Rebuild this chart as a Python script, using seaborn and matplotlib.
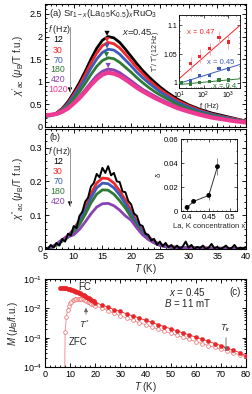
import numpy as np
import pandas as pd
import matplotlib
matplotlib.use("Agg")
import matplotlib.pyplot as plt
import seaborn as sns
from matplotlib.ticker import MultipleLocator, FuncFormatter, LogLocator, NullFormatter

sns.set_style("ticks")
plt.rcParams['font.family'] = ['Liberation Sans', 'DejaVu Sans']
plt.rcParams['mathtext.fontset'] = 'custom'
plt.rcParams['mathtext.rm'] = 'Liberation Sans'
plt.rcParams['mathtext.it'] = 'Liberation Sans:italic'
plt.rcParams['mathtext.bf'] = 'Liberation Sans:bold'
plt.rcParams['font.size'] = 6.5

# ---------------- data ----------------
freqs = ["12", "30", "70", "180", "420", "1020"]
colors = ["#000000", "#f2262b", "#3b5cb8", "#2f7a34", "#8a43b2", "#ee3a92"]

T_a = [5, 6, 7, 8, 9, 10, 11, 12, 13, 14, 15, 16, 17, 18, 19, 20, 21, 22, 23, 24, 25, 26,
       28, 30, 32, 34, 36, 38, 40]
chi1_12 = [0.24, 0.26, 0.31, 0.41, 0.56, 0.76, 0.98, 1.23, 1.50, 1.74, 1.92, 2.00, 1.97, 1.87, 1.72, 1.56,
           1.40, 1.25, 1.12, 1.00, 0.89, 0.79, 0.62, 0.49, 0.39, 0.31, 0.25, 0.19, 0.13]
chi1_30 = [0.24, 0.26, 0.30, 0.40, 0.53, 0.72, 0.92, 1.16, 1.41, 1.63, 1.80, 1.87, 1.84, 1.75, 1.61, 1.46,
           1.31, 1.18, 1.05, 0.94, 0.84, 0.75, 0.59, 0.47, 0.37, 0.29, 0.23, 0.18, 0.13]
chi1_70 = [0.24, 0.25, 0.30, 0.38, 0.51, 0.68, 0.86, 1.07, 1.30, 1.50, 1.65, 1.72, 1.70, 1.61, 1.48, 1.35,
           1.21, 1.09, 0.98, 0.88, 0.78, 0.70, 0.55, 0.44, 0.35, 0.28, 0.22, 0.17, 0.12]
chi1_180 = [0.24, 0.25, 0.29, 0.36, 0.47, 0.62, 0.78, 0.96, 1.16, 1.34, 1.47, 1.53, 1.51, 1.43, 1.32, 1.21,
            1.09, 0.98, 0.88, 0.79, 0.71, 0.64, 0.50, 0.40, 0.32, 0.26, 0.20, 0.16, 0.12]
chi1_420 = [0.25, 0.26, 0.28, 0.33, 0.42, 0.54, 0.67, 0.82, 0.98, 1.13, 1.23, 1.28, 1.26, 1.20, 1.11, 1.02,
            0.92, 0.83, 0.76, 0.69, 0.62, 0.56, 0.44, 0.36, 0.29, 0.23, 0.18, 0.14, 0.11]
chi1_1020 = [0.26, 0.27, 0.29, 0.34, 0.41, 0.52, 0.64, 0.78, 0.93, 1.06, 1.16, 1.20, 1.18, 1.13, 1.05, 0.96,
             0.87, 0.79, 0.72, 0.65, 0.59, 0.53, 0.42, 0.34, 0.27, 0.21, 0.17, 0.13, 0.10]
peak_T = [15.8, 15.8, 15.8, 15.7, 16.0]
peak_chi = [2.07, 1.93, 1.79, 1.60, 1.36]

T_b = [5, 6, 7, 8, 9, 10, 11, 12, 13, 14, 15, 16, 17, 18, 19, 20, 21, 22, 23, 24, 25, 26, 27, 28, 29, 30,
       32, 34, 36, 38, 40]
chi2_30 = [0.0, 0.004, 0.013, 0.027, 0.040, 0.058, 0.086, 0.122, 0.163, 0.195, 0.210, 0.208, 0.195, 0.172,
           0.145, 0.113, 0.081, 0.054, 0.036, 0.023, 0.014, 0.009, 0.007, 0.005, 0.004, 0.004,
           0.003, 0.003, 0.002, 0.002, 0.002]
chi2_70 = [0.0, 0.004, 0.013, 0.025, 0.038, 0.055, 0.080, 0.113, 0.151, 0.181, 0.195, 0.193, 0.181, 0.160,
           0.134, 0.105, 0.076, 0.050, 0.034, 0.021, 0.013, 0.008, 0.006, 0.005, 0.004, 0.003,
           0.003, 0.002, 0.002, 0.002, 0.002]
chi2_180 = [0.0, 0.004, 0.011, 0.023, 0.034, 0.049, 0.072, 0.102, 0.136, 0.162, 0.175, 0.174, 0.162, 0.143,
            0.121, 0.094, 0.068, 0.045, 0.030, 0.019, 0.011, 0.007, 0.005, 0.004, 0.003, 0.003,
            0.002, 0.002, 0.002, 0.001, 0.001]
chi2_420 = [0.0, 0.005, 0.015, 0.028, 0.036, 0.042, 0.058, 0.080, 0.104, 0.124, 0.134, 0.135, 0.128, 0.115,
            0.098, 0.085, 0.062, 0.042, 0.028, 0.018, 0.011, 0.007, 0.005, 0.004, 0.003, 0.003,
            0.002, 0.002, 0.002, 0.001, 0.001]
T_b12 = [5.0, 5.5, 6.0, 6.5, 7.0, 7.5, 8.0, 8.5, 9.0, 9.5, 10.0, 10.5, 11.0, 11.5, 12.0, 12.5, 13.0, 13.5,
         14.0, 14.5, 15.0, 15.5, 16.0, 16.5, 17.0, 17.5, 18.0, 18.5, 19.0, 19.5, 20.0, 20.5, 21.0, 21.5,
         22.0, 22.5, 23.0, 23.5, 24.0, 24.5, 25.0, 25.5, 26.0, 26.5, 27.0, 27.5, 28.0, 28.5, 29.0, 29.5,
         30.0, 30.5, 31.0, 31.5, 32.0, 32.5, 33.0, 33.5, 34.0, 34.5, 35.0, 35.5, 36.0, 36.5, 37.0, 37.5,
         38.0, 38.5, 39.0, 39.5, 40.0]
chi2_12 = [0.005, 0.000, 0.012, 0.004, 0.018, 0.010, 0.030, 0.022, 0.045, 0.040, 0.068, 0.062, 0.098, 0.110,
           0.140, 0.152, 0.185, 0.195, 0.222, 0.212, 0.240, 0.225, 0.245, 0.218, 0.225, 0.200, 0.198, 0.170,
           0.168, 0.142, 0.132, 0.105, 0.098, 0.072, 0.068, 0.045, 0.042, 0.025, 0.030, 0.012, 0.022, 0.008,
           0.018, 0.005, 0.012, 0.002, 0.010, 0.000, 0.008, 0.022, 0.004, 0.012, 0.000, 0.006, 0.003, 0.010,
           0.000, 0.004, 0.015, 0.002, 0.006, 0.000, 0.004, 0.010, 0.001, 0.003, 0.012, 0.000, 0.004, 0.002,
           0.006]

T_fc = [6.0, 6.5, 7.0, 7.5, 8.0, 8.5, 9.0, 9.5, 10.0, 10.5, 11.0, 11.5, 12.0, 12.5, 13.0, 13.5, 14.0, 14.5,
        15.0, 15.5, 16.0, 16.5, 17.0, 17.5, 18.0, 18.5, 19.0, 19.5, 20.0,
        22.5, 25, 27.5, 30, 32.5, 35, 37.5, 40, 42.5, 45, 47.5, 50, 52.5, 55, 57.5, 60, 62.5, 65, 67.5,
        70, 72.5, 75, 77.5, 80]
M_fc = [0.051, 0.0505, 0.050, 0.0495, 0.049, 0.048, 0.047, 0.0458, 0.0447, 0.0432, 0.0417, 0.0403, 0.0389,
        0.0372, 0.0355, 0.0339, 0.0324, 0.0307, 0.0288, 0.0275, 0.0263, 0.0248, 0.0234, 0.0221, 0.0209,
        0.0196, 0.0182, 0.0171, 0.0158,
        0.0132, 0.0110, 0.0091, 0.0078, 0.0065, 0.0055, 0.0047, 0.0039, 0.0033, 0.0028, 0.0024, 0.0020,
        0.0017, 0.00145, 0.00123, 0.00105, 0.00089, 0.00076, 0.00063, 0.00054, 0.00045, 0.00037, 0.00031,
        0.00024]
T_zfc = [7.8, 8.0, 8.5, 9.0, 9.5, 10.0, 10.5, 11.0, 11.5, 12.0, 12.5, 13.0, 13.5, 14.0, 14.5, 15.0, 15.5,
         16.0, 16.5, 17.0, 17.5, 18.0, 18.5, 19.0, 19.5, 20.0,
         22.5, 25, 27.5, 30, 32.5, 35, 37.5, 40, 42.5, 45, 47.5, 50, 52.5, 55, 57.5, 60, 62.5, 65, 67.5,
         70, 72.5, 75, 77.5, 80]
M_zfc = [1e-5, 0.0016, 0.0050, 0.0089, 0.0120, 0.0148, 0.0170, 0.0186, 0.0200, 0.0209, 0.0214, 0.0216,
         0.0216, 0.0214, 0.0209, 0.0204, 0.0195, 0.0186, 0.0178, 0.0170, 0.0162, 0.0151, 0.0145, 0.0138,
         0.0129, 0.0123,
         0.0102, 0.0083, 0.0068, 0.0056, 0.0047, 0.0039, 0.0032, 0.0028, 0.0023, 0.00195, 0.00166, 0.00141,
         0.0012, 0.00102, 0.00087, 0.00074, 0.00063, 0.00054, 0.00047, 0.0004, 0.00035, 0.0003, 0.00026,
         0.00023]

f_ins = [12, 30, 70, 180, 420, 1020]
r_047 = [1.0, 1.033, 1.046, 1.059, 1.079, 1.071]
e_047 = [0.002, 0.012, 0.012, 0.010, 0.012, 0.012]
r_045 = [1.0, 1.004, 1.012, 1.013, 1.025, 1.024]
e_045 = [0.002, 0.003, 0.004, 0.003, 0.004, 0.004]
r_040 = [1.0, 0.998, 1.000, 1.003, 1.005, 1.005]
e_040 = [0.001, 0.002, 0.002, 0.002, 0.002, 0.002]
fit_f = [10, 3000]
fit_047 = [1.007, 1.100]
fit_045 = [0.999, 1.032]
fit_040 = [0.997, 1.007]

conc = [0.40, 0.415, 0.45, 0.47]
delta = [0.003, 0.008, 0.013, 0.037]
delta_err = [0.0005, 0.0008, 0.004, 0.007]

# ---------------- figure ----------------
W, H = 252, 394
fig = plt.figure(figsize=(W / 100, H / 100), dpi=100)


def rect(x0, y0, x1, y1):
    return [x0 / W, 1 - y1 / H, (x1 - x0) / W, (y1 - y0) / H]


def px(x, y):
    return (x / W, 1 - y / H)


def style_axes(ax, lw=0.8, ml=3, mn=1.5, pad=2):
    for s in ax.spines.values():
        s.set_linewidth(lw)
        s.set_color('black')
    ax.tick_params(which='both', direction='in', top=True, right=True, colors='black', width=lw * 0.8,
                   pad=pad)
    ax.tick_params(which='major', length=ml)
    ax.tick_params(which='minor', length=mn)


def down_arrow(x, y0, y1):
    fig.add_artist(matplotlib.lines.Line2D([x / W, x / W], [1 - y0 / H, 1 - y1 / H],
                                           transform=fig.transFigure, color='#999999', lw=0.7))
    fig.add_artist(matplotlib.patches.FancyArrowPatch(px(x, y1 - 4), px(x, y1), transform=fig.transFigure,
                                                      arrowstyle='-|>,head_length=2.5,head_width=1.3',
                                                      color='black', lw=0.5))


gfmt = FuncFormatter(lambda v, p: f"{v:g}")

ax_a = fig.add_axes(rect(45, 4, 246, 127))
ax_b = fig.add_axes(rect(45, 129, 246, 249))
ax_c = fig.add_axes(rect(45, 279, 246, 367))

# ---- panel (a)
series_a = [chi1_12, chi1_30, chi1_70, chi1_180, chi1_420, chi1_1020]
lws = [2.0, 2.0, 2.0, 2.0, 2.2, 3.0]
for vals, c, lw in zip(series_a, colors, lws):
    sns.lineplot(x=T_a, y=vals, ax=ax_a, color=c, lw=lw, legend=False)
sns.scatterplot(x=peak_T, y=peak_chi, ax=ax_a, hue=freqs[:5], palette=colors[:5], marker='v', s=14,
                edgecolor='none', legend=False, zorder=5)
ax_a.set_xlim(5, 40)
ax_a.set_ylim(0, 2.72)
ax_a.xaxis.set_major_locator(MultipleLocator(5))
ax_a.xaxis.set_minor_locator(MultipleLocator(1))
ax_a.yaxis.set_major_locator(MultipleLocator(0.5))
ax_a.yaxis.set_minor_locator(MultipleLocator(0.1))
ax_a.yaxis.set_major_formatter(gfmt)
ax_a.set_xticklabels([])
ax_a.set_xlabel('')
ax_a.set_ylabel(r"$\chi'_{\rm ac}$ ($\mu_{\rm B}$/T f.u.)", labelpad=3, fontsize=7)
style_axes(ax_a)

fig.text(*px(49, 14), r"(a) Sr$_{1-x}$(La$_{0.5}$K$_{0.5}$)$_x$RuO$_3$", ha='left', va='center', fontsize=6.8)
fig.text(*px(137, 32), r"$x$=0.45", ha='center', va='center', fontsize=6.8)
fig.text(*px(48, 30), r"$f$ (Hz)", ha='left', va='center', fontsize=6.3)
ya = [40, 50.5, 60.5, 70, 80, 89.5]
for lab, c, yy in zip(freqs, colors, ya):
    fig.text(*px(58, yy), lab, ha='center', va='center', fontsize=6.3, color=c)
down_arrow(70, 27, 92)

# ---- panel (b)
series_b = [chi2_30, chi2_70, chi2_180, chi2_420]
for vals, c in zip(series_b, colors[1:5]):
    sns.lineplot(x=T_b, y=vals, ax=ax_b, color=c, lw=2.0, legend=False)
sns.lineplot(x=T_b12, y=chi2_12, ax=ax_b, color='black', lw=1.4, legend=False)
ax_b.set_xlim(5, 40)
ax_b.set_ylim(0, 0.355)
ax_b.xaxis.set_major_locator(MultipleLocator(5))
ax_b.xaxis.set_minor_locator(MultipleLocator(1))
ax_b.yaxis.set_major_locator(MultipleLocator(0.1))
ax_b.yaxis.set_minor_locator(MultipleLocator(0.02))
ax_b.yaxis.set_major_formatter(gfmt)
ax_b.set_xlabel(r"$T$ (K)", labelpad=1, fontsize=7)
ax_b.set_ylabel(r"$\chi''_{\rm ac}$ ($\mu_{\rm B}$/T f.u.)", labelpad=3, fontsize=7)
style_axes(ax_b)

fig.text(*px(49, 137), "(b)", ha='left', va='center', fontsize=6.5)
fig.text(*px(48, 151), r"$f$ (Hz)", ha='left', va='center', fontsize=6.3)
yb = [161.5, 171.5, 181.5, 191.5, 202]
for lab, c, yy in zip(freqs[:5], colors[:5], yb):
    fig.text(*px(58, yy), lab, ha='center', va='center', fontsize=6.3, color=c)
down_arrow(70, 148, 206)

# ---- panel (c)
sns.lineplot(x=T_zfc, y=M_zfc, ax=ax_c, color='#f37f7f', lw=0.6, legend=False)
sns.scatterplot(x=T_zfc[1:], y=M_zfc[1:], ax=ax_c, marker='o', s=7, facecolor='white',
                edgecolor='#f06a6a', linewidth=0.5, legend=False, zorder=3)
sns.lineplot(x=T_fc, y=M_fc, ax=ax_c, color='#e8262a', lw=0.6, legend=False)
sns.scatterplot(x=T_fc, y=M_fc, ax=ax_c, marker='o', s=9, color='#e8262a', edgecolor='#e8262a',
                linewidth=0.3, legend=False, zorder=4)
ax_c.set_yscale('log')
ax_c.set_xlim(0, 80)
ax_c.set_ylim(1e-4, 1e-1)
ax_c.xaxis.set_major_locator(MultipleLocator(10))
ax_c.xaxis.set_minor_locator(MultipleLocator(2))
ax_c.yaxis.set_major_locator(LogLocator(base=10, numticks=10))
ax_c.yaxis.set_minor_locator(LogLocator(base=10, subs=np.arange(2, 10) * 1.0, numticks=20))
ax_c.yaxis.set_minor_formatter(NullFormatter())
ax_c.set_xlabel(r"$T$ (K)", labelpad=1, fontsize=7)
ax_c.set_ylabel(r"$M$ ($\mu_{\rm B}$/f.u.)", labelpad=2, fontsize=7)
style_axes(ax_c)

fig.text(*px(85, 287), "FC", ha='center', va='center', fontsize=7)
fig.text(*px(78, 342), "ZFC", ha='center', va='center', fontsize=7)
fig.text(*px(84, 324), r"$T^{*}$", ha='center', va='center', fontsize=6.5)
fig.add_artist(matplotlib.patches.FancyArrowPatch(px(86, 317), px(86, 305), transform=fig.transFigure,
                                                  arrowstyle='-|>,head_length=2.2,head_width=1.1',
                                                  color='#666666', lw=0.6))
fig.text(*px(187, 292), r"$x$ = 0.45", ha='center', va='center', fontsize=7)
fig.text(*px(187, 303), r"$B$ = 11 mT", ha='center', va='center', fontsize=7)
fig.text(*px(235, 292), "(c)", ha='center', va='center', fontsize=7)
fig.text(*px(225, 328), r"$T_{\rm ir}$", ha='center', va='center', fontsize=6.5)
fig.add_artist(matplotlib.patches.FancyArrowPatch(px(226, 335), px(226, 354), transform=fig.transFigure,
                                                  arrowstyle='-|>,head_length=2.2,head_width=1.1',
                                                  color='#666666', lw=0.6))

# ---- inset (a)
ia = fig.add_axes(rect(179, 15, 240, 88))
ia.set_xscale('log')
ins_sets = [(r_047, e_047, fit_047, colors[1], '#f5a0a0'),
            (r_045, e_045, fit_045, colors[2], '#9fb0e0'),
            (r_040, e_040, fit_040, colors[3], '#8fc090')]
for r, e, fit, c, ec in ins_sets:
    sns.lineplot(x=fit_f, y=fit, ax=ia, color=c, lw=0.7, legend=False)
    ia.errorbar(f_ins, r, yerr=e, fmt='none', ecolor=ec, elinewidth=0.6, capsize=0)
    sns.scatterplot(x=f_ins, y=r, ax=ia, color=c, marker='s', s=5, edgecolor='none', legend=False,
                    zorder=4)
ia.set_xlim(10, 3000)
ia.set_ylim(0.991, 1.118)
ia.set_yticks([1.0, 1.05, 1.1])
ia.yaxis.set_major_formatter(gfmt)
ia.yaxis.set_minor_locator(MultipleLocator(0.01))
ia.set_xlabel(r"f (Hz)", fontsize=5.5, labelpad=1)
ia.set_ylabel(r"T$^{*}$/ T$^{*}$(12 Hz)", fontsize=5)
ia.yaxis.set_label_coords(-0.27, 0.5)
ia.tick_params(labelsize=5)
style_axes(ia, lw=0.6, ml=2, mn=1, pad=1.5)
ia.text(21, 1.087, "x = 0.47", color=colors[1], fontsize=5.5, ha='left', va='center')
ia.text(135, 1.036, "x = 0.45", color=colors[2], fontsize=5.5, ha='left', va='center')
ia.text(250, 0.993, "x = 0.4", color=colors[3], fontsize=5.5, ha='left', va='center')

# ---- inset (b)
ib = fig.add_axes(rect(181, 139, 237, 211))
ib.errorbar(conc, delta, yerr=delta_err, fmt='none', ecolor='#777777', elinewidth=0.6, capsize=0)
sns.lineplot(x=conc, y=delta, ax=ib, color='#333333', lw=0.7, legend=False)
sns.scatterplot(x=conc, y=delta, ax=ib, color='black', s=12, edgecolor='none', legend=False, zorder=4)
ib.set_xlim(0.386, 0.515)
ib.set_ylim(0, 0.06)
ib.set_xticks([0.4, 0.45, 0.5])
ib.set_yticks([0, 0.02, 0.04, 0.06])
ib.xaxis.set_minor_locator(MultipleLocator(0.01))
ib.yaxis.set_minor_locator(MultipleLocator(0.01))
ib.xaxis.set_major_formatter(gfmt)
ib.yaxis.set_major_formatter(gfmt)
ib.set_xlabel("La, K concentration x", fontsize=5.5, labelpad=1)
ib.set_ylabel("δ", fontsize=5.5, labelpad=1)
ib.tick_params(labelsize=5.5)
style_axes(ib, lw=0.6, ml=2, mn=1)

fig.savefig("out.png", dpi=100)
